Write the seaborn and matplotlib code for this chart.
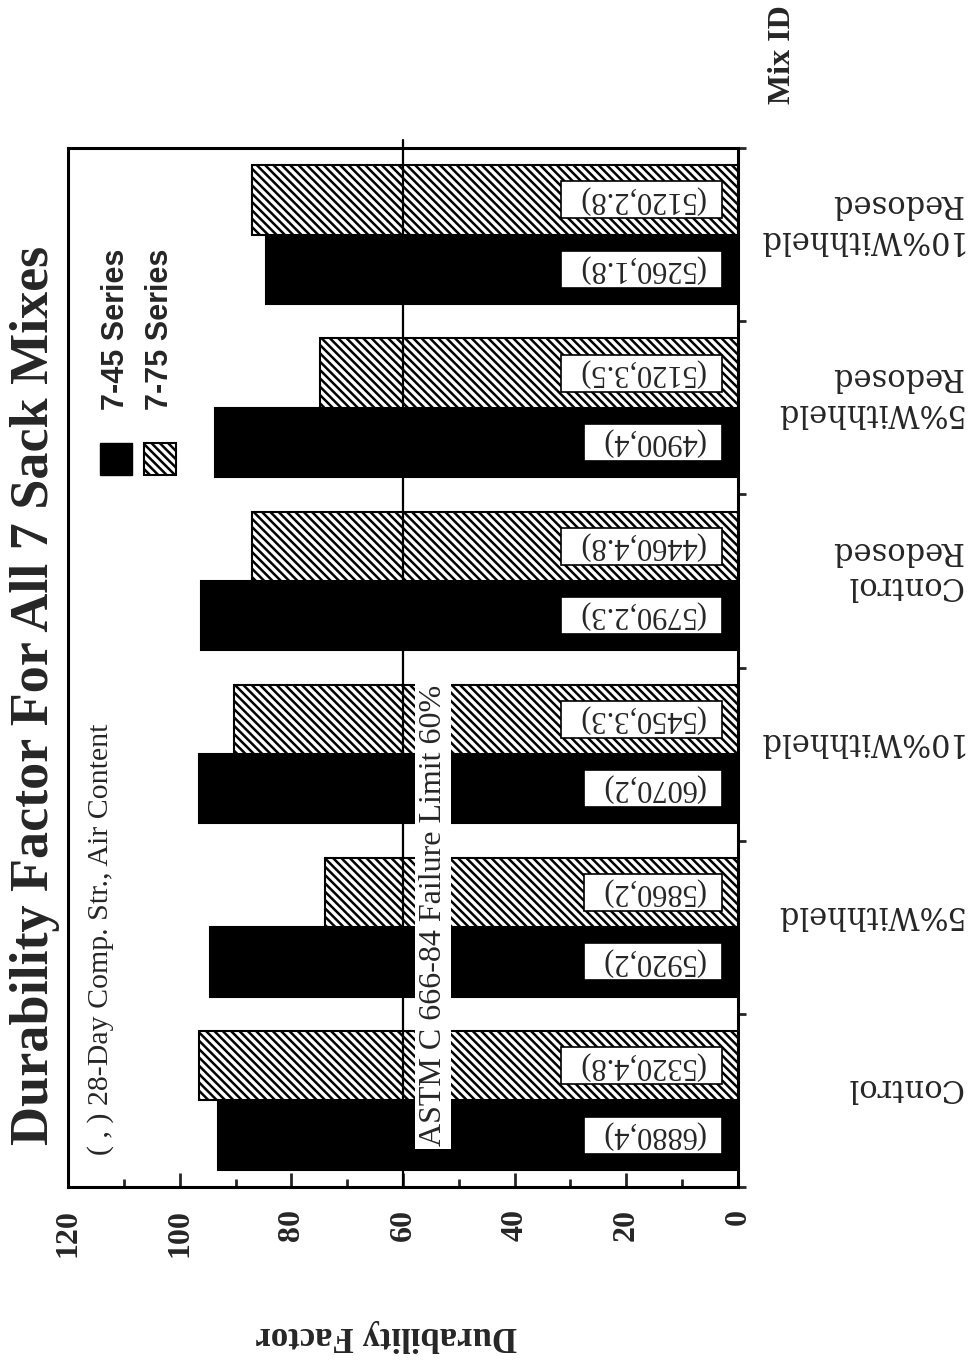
import seaborn as sns
import matplotlib.pyplot as plt
from matplotlib.patches import Rectangle
import pandas as pd

# values
mixes = ["Control", "5%Withheld", "10%Withheld", "Control\nRedosed",
         "5%Withheld\nRedosed", "10%Withheld\nRedosed"]
series = ["7-45 Series", "7-75 Series"]
df_745 = [93.2, 94.5, 96.6, 96.1, 93.6, 84.6]
df_775 = [96.6, 73.9, 90.2, 87.0, 74.8, 87.1]
# (28-day compressive strength, air content)
note_745 = ["(6880,4)", "(5920,2)", "(6070,2)", "(5790,2.3)", "(4900,4)", "(5260,1.8)"]
note_775 = ["(5320,4.8)", "(5860,2)", "(5450,3.3)", "(4460,4.8)", "(5120,3.5)", "(5120,2.8)"]
limit = 60

sns.set_style("ticks")
plt.rcParams['font.family'] = ['Liberation Serif', 'DejaVu Serif']
plt.rcParams['hatch.linewidth'] = 1.8

data = pd.DataFrame({
    "Mix": mixes * 2,
    "Series": [series[0]] * 6 + [series[1]] * 6,
    "DF": df_745 + df_775,
})

W, H = 970, 1361
fig = plt.figure(figsize=(W / 100, H / 100), dpi=100)
ax = fig.add_axes([68 / W, 1 - 1187 / H, 670 / W, 1039 / H])

sns.barplot(data=data, y="Mix", x="DF", hue="Series", order=mixes, hue_order=series,
            palette=["black", "white"], orient="h", width=0.8, saturation=1,
            edgecolor="black", linewidth=1.5, legend=False, ax=ax)
for bar in ax.containers[1]:
    bar.set_hatch("\\\\\\\\")

ax.set_ylim(-0.5, 5.5)
ax.set_xlim(120, 0)

# failure limit line + label
ax.axvline(limit, ymin=0, ymax=1.008, color="black", lw=1.6, zorder=4, clip_on=False)
ax.text(54.6, 1.07, "ASTM C 666-84 Failure Limit 60%", rotation=90, fontsize=23,
        ha="center", va="center", zorder=6,
        bbox=dict(boxstyle="square,pad=0.1", fc="white", ec="none"))

# value axis (bottom, reversed)
ax.set_xticks(range(0, 121, 20))
ax.set_xticks(range(10, 120, 20), minor=True)
ax.tick_params(axis="x", which="major", direction="in", length=10, width=2,
               pad=16, labelsize=23, labelrotation=90)
ax.tick_params(axis="x", which="minor", direction="in", length=6, width=2)
for t in ax.get_xticklabels():
    t.set_fontweight("bold")
ax.set_xlabel("Durability Factor", fontsize=25, fontweight="bold", rotation=180)
ax.xaxis.set_label_coords(0.475, -0.143)
ax.xaxis.label.set_va("center")

# category axis (right side): ticks at group boundaries, names far to the right
ax.yaxis.tick_right()
ax.set_yticks(range(len(mixes)))
ax.set_yticks([i - 0.5 for i in range(len(mixes) + 1)], minor=True)
ax.set_yticklabels([])
ax.set_ylabel("")
ax.tick_params(axis="y", which="major", length=0)
ax.tick_params(axis="y", which="minor", direction="out", length=6, width=2, right=True, left=False)
for i, name in enumerate(mixes):
    ax.text(1.3343, i + 0.075, name, transform=ax.get_yaxis_transform(), rotation=180,
            ha="right", va="center", multialignment="left",
            family="DejaVu Serif", fontsize=22)

for s in ax.spines.values():
    s.set_visible(True)
    s.set_linewidth(2.2)
    s.set_color("black")

# annotation boxes on the bars
texts = []
for i in range(len(mixes)):
    for off, note in ((-0.2, note_745[i]), (0.2, note_775[i])):
        texts.append(ax.text(5.9, i + off, note, rotation=180, fontsize=22,
                             ha="right", va="center", zorder=8))
fig.canvas.draw()
inv = ax.transData.inverted()
for t in texts:
    bb = t.get_window_extent()
    (x0, y0), (x1, y1) = inv.transform([[bb.x0 - 17, bb.y0 - 4], [bb.x1 + 17, bb.y1 + 4]])
    ax.add_patch(Rectangle((min(x0, x1), min(y0, y1)), abs(x1 - x0), abs(y1 - y0),
                           fc="white", ec="black", lw=1.2, zorder=7))

# legend drawn rotated, like the original
ax.add_patch(Rectangle((0.048, 0.685), 0.048, 0.031, transform=ax.transAxes,
                       fc="black", ec="black", zorder=5))
ax.add_patch(Rectangle((0.113, 0.685), 0.048, 0.031, transform=ax.transAxes,
                       fc="white", ec="black", hatch="\\\\\\\\", lw=1.5, zorder=5))
ax.text(0.072, 0.748, series[0], transform=ax.transAxes, rotation=90, fontsize=22,
        family="Liberation Sans", fontweight="bold", ha="center", va="bottom")
ax.text(0.137, 0.748, series[1], transform=ax.transAxes, rotation=90, fontsize=22,
        family="Liberation Sans", fontweight="bold", ha="center", va="bottom")
ax.text(0.048, 0.238, "( , ) 28-Day Comp. Str., Air Content", transform=ax.transAxes,
        rotation=90, fontsize=21.5, ha="center", va="center")

fig.text(35 / W, 1 - 695 / H, "Durability Factor For All 7 Sack Mixes", rotation=90,
         fontsize=39, fontweight="bold", ha="center", va="center")
fig.text(783 / W, 1 - 55 / H, "Mix ID", rotation=90, fontsize=23, fontweight="bold",
         ha="center", va="center")

fig.savefig("out.png", dpi=100, facecolor="white")
